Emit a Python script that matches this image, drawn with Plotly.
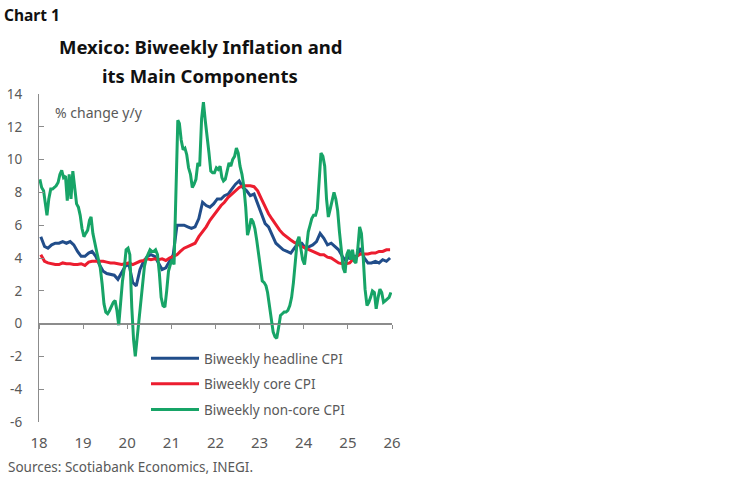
import pandas as pd
import plotly.graph_objects as go

# monthly series (mid-month), Jan 2018 - Dec 2025, % y/y
headline = [
    5.3, 4.7, 4.6, 4.8, 4.9, 4.9, 5.0, 4.9, 5.0, 4.8, 4.4, 4.1,
    4.1, 4.3, 4.4, 4.1, 3.6, 3.2, 3.05, 3.0, 2.95, 2.7, 3.1, 3.5,
    3.6, 2.5, 2.3, 3.3, 3.8, 4.1, 4.2, 4.1, 3.7, 3.3, 3.4, 3.8,
    4.2, 6.0, 6.0, 6.0, 5.9, 5.8, 5.9, 6.4, 7.4, 7.2, 7.1, 7.3,
    7.6, 7.6, 7.8, 7.9, 8.2, 8.5, 8.7, 8.3, 8.1, 7.8, 7.9, 7.3,
    6.7, 6.1, 5.9, 5.4, 4.9, 4.7, 4.5, 4.4, 4.3, 4.6, 4.9, 4.9,
    4.6, 4.7, 4.8, 5.0, 5.5, 5.2, 4.8, 4.9, 4.7, 4.5, 4.1, 3.8,
    4.2, 4.1, 4.1, 4.6, 4.0, 3.7, 3.7, 3.8, 3.7, 3.9, 3.8, 4.0,
]
core = [
    4.2, 3.8, 3.7, 3.65, 3.6, 3.6, 3.7, 3.65, 3.65, 3.6, 3.6, 3.65,
    3.55, 3.75, 3.8, 3.8, 3.8, 3.8, 3.75, 3.7, 3.7, 3.65, 3.6, 3.65,
    3.7, 3.6, 3.7, 3.8, 3.85, 3.95, 3.9, 3.95, 3.9, 3.95, 3.85, 4.0,
    4.1, 4.2, 4.4, 4.6, 4.7, 4.8, 4.9, 5.3, 5.6, 5.9, 6.3, 6.6,
    6.9, 7.2, 7.4, 7.7, 7.9, 8.1, 8.3, 8.4, 8.4, 8.4, 8.35, 8.1,
    7.6, 7.1, 6.7, 6.35, 6.0, 5.7, 5.45, 5.25, 5.1, 4.95, 4.8, 4.7,
    4.6, 4.5, 4.4, 4.3, 4.2, 4.2, 4.05, 4.0, 3.85, 3.7, 3.65, 3.65,
    3.7, 3.95, 4.1, 4.25, 4.25, 4.25, 4.3, 4.3, 4.4, 4.4, 4.5, 4.5,
]
# biweekly series (two readings per month)
non_core = [
    8.8, 8.3, 8.1, 7.2, 6.6, 7.6, 8.2, 8.2, 8.3, 8.4, 8.6, 9.1,
    9.35, 8.9, 9.0, 7.5, 9.1, 7.6, 9.3, 8.3, 7.3, 7.1, 6.6, 5.8,
    5.3, 5.5, 5.7, 6.3, 6.5, 5.5, 4.8, 4.4, 3.9, 3.4, 2.4, 1.2,
    0.7, 0.6, 0.8, 1.0, 1.3, 1.4, 0.8, -0.1, 1.4, 2.6, 3.4, 4.5,
    4.6, 4.2, 1.0, -1.0, -2.0, -0.9, 0.6, 1.7, 2.7, 3.5, 4.0, 4.3,
    4.5, 4.4, 4.4, 4.5, 4.2, 3.1, 1.6, 1.1, 1.0, 2.0, 3.2, 3.6,
    3.9, 3.6, 7.5, 12.4, 12.2, 11.2, 10.6, 10.7, 10.3, 9.5, 9.1, 8.3,
    8.5, 8.8, 9.8, 9.6, 12.5, 13.5, 12.4, 11.2, 10.4, 9.3, 9.2, 9.2,
    9.5, 9.4, 9.6, 8.9, 8.7, 8.8, 9.3, 9.8, 9.6, 10.0, 10.2, 10.7,
    10.4, 9.6, 9.1, 8.4, 7.1, 5.4, 5.8, 6.4, 6.2, 5.8, 5.1, 4.3,
    3.4, 2.6, 2.5, 2.3, 1.9, 1.1, 0.4, -0.5, -0.8, -0.9, -0.2, 0.5,
    0.6, 0.7, 0.7, 0.8, 1.1, 1.6, 2.5, 4.0, 5.0, 5.3, 4.6, 3.9,
    3.6, 4.6, 5.6, 6.0, 6.4, 6.6, 6.6, 7.0, 8.8, 10.4, 10.2, 9.6,
    7.6, 6.5, 7.0, 7.6, 8.0, 7.6, 6.9, 5.6, 4.4, 3.4, 3.1, 4.2,
    4.5, 3.9, 4.5, 3.8, 3.7, 4.5, 5.9, 5.5, 4.0, 2.1, 1.1, 1.3,
    1.6, 2.0, 1.9, 0.9, 1.6, 2.1, 1.9, 1.3, 1.4, 1.5, 1.6, 1.9,
]

y_ticks = [-6, -4, -2, 0, 2, 4, 6, 8, 10, 12, 14]
y_labels = ["-6", "-4", "-2", "0", "2", "4", "6", "8", "10", "12", "14"]

series_names = ["Biweekly headline CPI", "Biweekly core CPI", "Biweekly non-core CPI"]
series_colors = ["#214d8a", "#ec1d2f", "#17a467"]

FONT = "Noto Sans"
GREY = "#595959"
AXIS = "#8c8c8c"

W, H = 748, 483
L, T, PW, PH = 39, 94, 353, 328  # plot area in px
Y_MIN, Y_MAX = -6, 14
X_RANGE = ["2018-01-01", "2026-01-01"]
zero_frac = (0 - Y_MIN) / (Y_MAX - Y_MIN)

months = pd.date_range("2018-01-01", "2025-12-01", freq="MS")
month_dates = months + pd.Timedelta(days=15)
half_dates = pd.DatetimeIndex(sorted(list(months + pd.Timedelta(days=7)) + list(months + pd.Timedelta(days=22))))

fig = go.Figure()
for name, color, x, y in zip(series_names, series_colors,
                             [month_dates, month_dates, half_dates],
                             [headline, core, non_core]):
    fig.add_trace(go.Scatter(x=x, y=y, name=name, mode="lines", legendgroup=name,
                             line=dict(color=color, width=3)))

# empty subplot whose bottom edge is y=0, only there to carry tick marks along the zero line
fig.add_trace(go.Scatter(x=[], y=[], xaxis="x2", yaxis="y2", showlegend=False, hoverinfo="skip"))

fig.update_layout(
    width=W, height=H,
    margin=dict(l=L, r=W - L - PW, t=T, b=H - T - PH, autoexpand=False),
    plot_bgcolor="rgba(0,0,0,0)", paper_bgcolor="white",
    font=dict(family=FONT, color=GREY),
    xaxis=dict(type="date", range=X_RANGE, dtick="M12", tick0="2018-01-01", tickformat="%y",
               showline=False, showgrid=False, zeroline=False, ticks="",
               tickfont=dict(size=15, color=GREY), ticklabelstandoff=10),
    yaxis=dict(range=[Y_MIN, Y_MAX], tickvals=y_ticks, ticktext=y_labels,
               showline=True, linecolor=AXIS, linewidth=1.3, showgrid=False,
               zeroline=True, zerolinecolor=AXIS, zerolinewidth=1.3,
               ticks="inside", ticklen=5, tickcolor=AXIS, tickwidth=1.3,
               tickfont=dict(size=13.5, color=GREY), ticklabelstandoff=13),
    xaxis2=dict(type="date", range=X_RANGE, dtick="M12", tick0="2018-01-01", anchor="y2",
                showticklabels=False, showline=True, linecolor=AXIS, linewidth=1.3,
                showgrid=False, zeroline=False,
                ticks="outside", ticklen=4, tickcolor=AXIS, tickwidth=1.3),
    yaxis2=dict(domain=[zero_frac, 1], anchor="x2", range=[0, 1],
                showticklabels=False, showline=False, showgrid=False, zeroline=False, ticks=""),
    legend=dict(x=(146 - L) / PW, y=(T + PH - 343) / PH,
                yanchor="top", xanchor="left", bgcolor="rgba(0,0,0,0)",
                font=dict(size=13.5, color=GREY), tracegroupgap=5, itemwidth=48),
    showlegend=True,
)


def add_text(text, px_x, px_y, size, color=GREY, anchor="left"):
    # px_x / px_y are pixels from the top-left of the figure
    fig.add_annotation(text=text, xref="paper", yref="paper", showarrow=False,
                       x=(px_x - L) / PW, y=(T + PH - px_y) / PH,
                       xanchor=anchor, yanchor="middle",
                       font=dict(family=FONT, size=size, color=color))


add_text("<b>Chart 1</b>", 2, 15, 15.5, "#111111")
add_text("<b>Mexico: Biweekly Inflation and</b>", 200, 47, 18.5, "#111111", "center")
add_text("<b>its Main Components</b>", 200, 75, 18.5, "#111111", "center")
add_text("% change y/y", 53, 112, 14)
add_text("Sources: Scotiabank Economics, INEGI.", 6, 467, 13.5)

# drop the browser's default body margin so the figure starts at the window corner
fig.write_html("out.html", config={"displayModeBar": False},
               post_script="document.body.style.margin = '0';")
